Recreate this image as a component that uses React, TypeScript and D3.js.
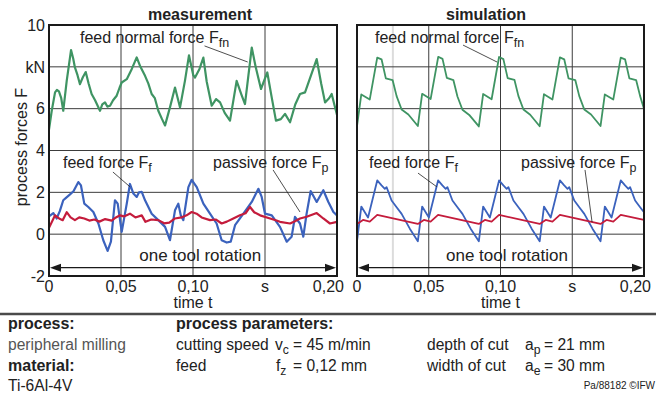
import { useEffect, useRef } from "react";
import * as d3 from "d3";

type Pt = [number, number];

const yTicks = [-2, 0, 2, 4, 6, 8, 10];
const yTickLabels = ["-2", "0", "2", "4", "6", "kN", "10"];
const xTicks = [0, 0.05, 0.1, 0.15, 0.2];
const xTickLabels = ["0", "0,05", "0,10", "s", "0,20"];

// measurement (time s, force kN)
const measFfn: Pt[] = [
  [0, 5.0], [0.0019, 5.9], [0.0042, 6.78], [0.0055, 6.9], [0.0069, 6.83], [0.0085, 6.5], [0.0099, 5.9],
  [0.0123, 7.33], [0.0153, 8.8], [0.0168, 8.4], [0.018, 7.97], [0.0198, 7.6], [0.0215, 7.17], [0.0235, 7.5],
  [0.0255, 7.75], [0.0275, 7.2], [0.0296, 6.7], [0.032, 6.4], [0.0354, 5.9], [0.037, 6.2], [0.0389, 6.3],
  [0.0405, 6.1], [0.0424, 6.14], [0.0445, 6.4], [0.047, 6.62], [0.049, 7.0], [0.0505, 7.25], [0.054, 7.41],
  [0.0575, 7.9], [0.0609, 8.45], [0.0635, 8.0], [0.0667, 7.57], [0.069, 7.2], [0.0713, 6.7], [0.0735, 6.5],
  [0.0759, 5.9], [0.0785, 5.5], [0.0806, 5.2], [0.084, 6.06], [0.0875, 7.01], [0.091, 6.06], [0.0944, 7.33],
  [0.0972, 8.55], [0.1002, 7.6], [0.1014, 7.49], [0.1045, 7.9], [0.1072, 8.44], [0.1095, 7.3], [0.113, 6.14],
  [0.116, 6.46], [0.1188, 6.3], [0.122, 5.8], [0.1257, 5.43], [0.1303, 7.33], [0.1335, 6.7], [0.1361, 6.22],
  [0.1385, 7.6], [0.1408, 8.92], [0.1435, 8.0], [0.1472, 6.94], [0.1516, 7.73], [0.1545, 6.6], [0.1576, 5.43],
  [0.161, 5.5], [0.1639, 5.75], [0.1674, 5.35], [0.171, 6.2], [0.1743, 6.7], [0.1778, 6.78], [0.182, 7.6],
  [0.1859, 8.37], [0.189, 7.2], [0.1917, 6.3], [0.1945, 6.5], [0.1963, 6.7], [0.1985, 6.1], [0.2, 5.7],
];

const measFf: Pt[] = [
  [0, 0.85], [0.003, 1.01], [0.0053, 0.75], [0.0075, 1.1], [0.0099, 1.62], [0.012, 1.75], [0.0146, 1.9],
  [0.017, 2.05], [0.0204, 2.49], [0.0222, 2.33], [0.0245, 1.46], [0.0273, 1.3], [0.0308, 1.06], [0.0343, 0.51],
  [0.0377, -0.29], [0.0407, -0.8], [0.043, -0.36], [0.0458, 1.62], [0.0477, 1.46], [0.0505, 0.11], [0.054, 1.46],
  [0.0562, 2.4], [0.0586, 1.94], [0.0609, 1.78], [0.0625, 2.0], [0.0644, 2.02], [0.0667, 1.62], [0.0713, 0.98],
  [0.0759, 0.67], [0.0806, 0.35], [0.084, -0.29], [0.0875, 1.14], [0.0898, 1.46], [0.0915, 0.9], [0.0933, 0.67],
  [0.0968, 2.25], [0.0991, 2.6], [0.1026, 2.25], [0.1072, 1.46], [0.1118, 0.98], [0.1164, 0.51], [0.1199, -0.29],
  [0.1234, -0.4], [0.1262, -0.36], [0.1292, 0.43], [0.135, 0.98], [0.1408, 1.54], [0.1454, 2.17], [0.1477, 1.78],
  [0.15, 0.98], [0.1547, 0.9], [0.1604, 0.35], [0.1651, -0.36], [0.1685, -0.12], [0.1708, 0.83], [0.1743, 0.51],
  [0.1766, -0.12], [0.1789, 0.98], [0.1817, 2.06], [0.1859, 1.54], [0.1905, 2.1], [0.194, 1.54], [0.1975, 1.06],
  [0.2, 0.9],
];

const measFp: Pt[] = [
  [0, 0.3], [0.0042, 0.9], [0.007, 0.75], [0.0095, 0.67], [0.0123, 1.05], [0.015, 0.8], [0.018, 0.67],
  [0.021, 0.8], [0.0245, 0.75], [0.028, 0.65], [0.0315, 0.7], [0.035, 0.6], [0.039, 0.72], [0.0435, 0.65],
  [0.0465, 0.8], [0.0493, 0.9], [0.052, 0.85], [0.0562, 0.98], [0.06, 0.8], [0.0644, 0.9], [0.067, 0.59],
  [0.071, 0.7], [0.0759, 0.67], [0.08, 0.52], [0.0835, 0.55], [0.0875, 0.75], [0.092, 0.8], [0.0955, 0.9],
  [0.0991, 1.06], [0.1025, 0.98], [0.106, 0.8], [0.1118, 0.67], [0.116, 0.7], [0.1199, 0.51], [0.1235, 0.6],
  [0.128, 0.75], [0.1326, 0.9], [0.1365, 1.0], [0.1396, 1.3], [0.1425, 1.05], [0.1466, 0.9], [0.1535, 0.75],
  [0.158, 0.65], [0.1604, 0.59], [0.1674, 0.51], [0.1708, 0.62], [0.1743, 0.75], [0.1789, 0.83], [0.1859, 1.01],
  [0.1905, 0.75], [0.1951, 0.51], [0.2, 0.59],
];

// simulation
const simFfn: Pt[] = [
  [0, 5.17], [0.003, 6.68], [0.0089, 6.44], [0.0141, 8.44], [0.0171, 8.36], [0.0201, 7.45], [0.0248, 7.37],
  [0.0276, 6.6], [0.0311, 5.96], [0.0358, 5.72],
  [0.0424, 5.17], [0.0454, 6.71], [0.0513, 6.46], [0.0566, 8.48], [0.0596, 8.38], [0.0626, 7.47], [0.0672, 7.36],
  [0.07, 6.58], [0.0735, 5.95], [0.0782, 5.7],
  [0.0849, 5.15], [0.0879, 6.7], [0.0938, 6.45], [0.099, 8.47], [0.102, 8.37], [0.105, 7.46], [0.1097, 7.38],
  [0.1125, 6.6], [0.116, 5.96], [0.1207, 5.71],
  [0.1273, 5.16], [0.1303, 6.69], [0.1362, 6.44], [0.1414, 8.45], [0.1444, 8.36], [0.1474, 7.45], [0.1521, 7.37],
  [0.1549, 6.6], [0.1584, 5.96], [0.1631, 5.72],
  [0.1697, 5.17], [0.1727, 6.68], [0.1786, 6.44], [0.1838, 8.44], [0.1868, 8.36], [0.1898, 7.45], [0.1945, 7.37],
  [0.1973, 6.6], [0.2, 6.0],
];

const simFf: Pt[] = [
  [0, -0.34], [0.003, 1.32], [0.0077, 0.8], [0.0141, 2.57], [0.0171, 2.33], [0.0194, 2.17], [0.0206, 2.25],
  [0.0241, 1.61], [0.0276, 1.29], [0.0311, 0.97], [0.0369, 0.25],
  [0.0424, -0.34], [0.0454, 1.32], [0.0501, 0.8], [0.0565, 2.57], [0.0595, 2.33], [0.0618, 2.17], [0.063, 2.25],
  [0.0665, 1.61], [0.07, 1.29], [0.0735, 0.97], [0.0793, 0.25],
  [0.0849, -0.34], [0.0879, 1.32], [0.0926, 0.8], [0.099, 2.57], [0.102, 2.33], [0.1043, 2.17], [0.1055, 2.25],
  [0.109, 1.61], [0.1125, 1.29], [0.116, 0.97], [0.1218, 0.25],
  [0.1273, -0.34], [0.1303, 1.32], [0.135, 0.8], [0.1414, 2.57], [0.1444, 2.33], [0.1467, 2.17], [0.1479, 2.25],
  [0.1514, 1.61], [0.1549, 1.29], [0.1584, 0.97], [0.1642, 0.25],
  [0.1697, -0.34], [0.1727, 1.32], [0.1774, 0.8], [0.1838, 2.57], [0.1868, 2.33], [0.1891, 2.17], [0.1903, 2.25],
  [0.1938, 1.61], [0.1973, 1.29], [0.2, 1.05],
];

const simFp: Pt[] = [
  [0, 0.49], [0.0042, 0.68], [0.0089, 0.6], [0.0141, 0.92],
  [0.0424, 0.49], [0.0466, 0.68], [0.0513, 0.6], [0.0565, 0.92],
  [0.0849, 0.49], [0.0891, 0.68], [0.0938, 0.6], [0.099, 0.92],
  [0.1273, 0.49], [0.1315, 0.68], [0.1362, 0.6], [0.1414, 0.92],
  [0.1697, 0.49], [0.1739, 0.68], [0.1786, 0.6], [0.1838, 0.92],
  [0.2, 0.68],
];

const GREEN = "#3f9463";
const BLUE = "#3b62bd";
const RED = "#c41c3c";
const FONT = "'Liberation Sans', Arial, Helvetica, sans-serif";

const panels = [
  {
    left: 49, right: 337, title: "measurement", titleX: 200, width: 2.2, marker: null as number | null,
    series: [measFfn, measFf, measFp],
    ffn: { t: 0.0215, lead: [[0.108, 9.0], [0.138, 8.23]] },
    ff: { t: 0.0097, lead: [[0.0444, 2.97], [0.0563, 2.26]] },
    fp: { t: 0.1139, lead: [[0.1556, 3.07], [0.1743, 1.06]] },
    rotX: 0.105,
  },
  {
    left: 357, right: 644, title: "simulation", titleX: 486, width: 1.8, marker: 0.025 as number | null,
    series: [simFfn, simFf, simFp],
    ffn: { t: 0.0125, lead: [[0.0739, 9.04], [0.0976, 8.23]] },
    ff: { t: 0.0084, lead: [[0.0425, 2.92], [0.0557, 2.26]] },
    fp: { t: 0.1143, lead: [[0.1589, 3.07], [0.1638, 0.58]] },
    rotX: 0.1045,
  },
];

const App = () => {
  const ref = useRef<SVGSVGElement>(null);

  useEffect(() => {
    const svg = d3.select(ref.current);
    svg.selectAll("*").remove();

    const y = d3.scaleLinear().domain([-2, 10]).range([276, 25]);
    const colors = [GREEN, BLUE, RED];

    const label = (g: any, x: number, yy: number, main: string, sub: string, size = 16) => {
      const t = g.append("text").attr("x", x).attr("y", yy).attr("font-size", size).attr("fill", "#222");
      t.append("tspan").text(main);
      t.append("tspan").attr("font-size", size * 0.78).attr("dy", 3.5).text(sub);
      return t;
    };

    panels.forEach((p) => {
      const x = d3.scaleLinear().domain([0, 0.2]).range([p.left, p.right]);
      const g = svg.append("g");

      if (p.marker != null) {
        g.append("line")
          .attr("x1", x(p.marker)).attr("x2", x(p.marker))
          .attr("y1", y(10)).attr("y2", y(-2))
          .attr("stroke", "#dcdcdc").attr("stroke-width", 2);
      }

      // grid
      g.selectAll(".hg").data(yTicks.slice(1, -1)).join("line")
        .attr("x1", p.left).attr("x2", p.right)
        .attr("y1", (d) => y(d)).attr("y2", (d) => y(d))
        .attr("stroke", "#3c3c3c").attr("stroke-width", 1);
      g.selectAll(".vg").data(xTicks.slice(1, -1)).join("line")
        .attr("x1", (d) => x(d)).attr("x2", (d) => x(d))
        .attr("y1", y(10)).attr("y2", y(-2))
        .attr("stroke", "#3c3c3c").attr("stroke-width", 1);

      // curves
      const line = d3.line<Pt>().x((d) => x(d[0])).y((d) => y(d[1]));
      p.series.forEach((s, i) => {
        g.append("path").datum(s)
          .attr("d", line)
          .attr("fill", "none")
          .attr("stroke", colors[i])
          .attr("stroke-width", p.width)
          .attr("stroke-linejoin", "round");
      });

      // frame
      g.append("rect")
        .attr("x", p.left).attr("y", y(10))
        .attr("width", p.right - p.left).attr("height", y(-2) - y(10))
        .attr("fill", "none").attr("stroke", "#1a1a1a").attr("stroke-width", 2);

      // title
      g.append("text").attr("x", p.titleX).attr("y", 20)
        .attr("text-anchor", "middle").attr("font-size", 16).attr("font-weight", "bold")
        .attr("fill", "#222").text(p.title);

      // x tick labels (last one pulled inside)
      g.selectAll(".xt").data(xTicks).join("text")
        .attr("x", (d, i) => (i === xTicks.length - 1 ? p.right + 7 : x(d)))
        .attr("y", 292)
        .attr("text-anchor", (d, i) => (i === xTicks.length - 1 ? "end" : "middle"))
        .attr("font-size", 16).attr("fill", "#222")
        .text((d, i) => xTickLabels[i]);
      g.append("text").attr("x", x(0.1)).attr("y", 308)
        .attr("text-anchor", "middle").attr("font-size", 16).attr("fill", "#222").text("time t");

      // one tool rotation
      const ya = y(-1.6);
      g.append("line").attr("x1", p.left + 4).attr("x2", p.right - 4)
        .attr("y1", ya).attr("y2", ya).attr("stroke", "#1a1a1a").attr("stroke-width", 1.2);
      g.append("path")
        .attr("d", `M${p.left + 1},${ya}L${p.left + 12},${ya - 4}L${p.left + 12},${ya + 4}Z`)
        .attr("fill", "#1a1a1a");
      g.append("path")
        .attr("d", `M${p.right - 1},${ya}L${p.right - 12},${ya - 4}L${p.right - 12},${ya + 4}Z`)
        .attr("fill", "#1a1a1a");
      g.append("text").attr("x", x(p.rotX)).attr("y", y(-1.28))
        .attr("text-anchor", "middle").attr("font-size", 17).attr("fill", "#222").text("one tool rotation");

      // annotations
      const lead = (pts: number[][]) =>
        g.append("line")
          .attr("x1", x(pts[0][0])).attr("y1", y(pts[0][1]))
          .attr("x2", x(pts[1][0])).attr("y2", y(pts[1][1]))
          .attr("stroke", "#222").attr("stroke-width", 0.8);
      label(g, x(p.ffn.t), 43, "feed normal force F", "fn");
      lead(p.ffn.lead);
      label(g, x(p.ff.t), 168, "feed force F", "f");
      lead(p.ff.lead);
      label(g, x(p.fp.t), 168, "passive force F", "p");
      lead(p.fp.lead);
    });

    // y axis labels (left panel only)
    svg.append("g").selectAll("text").data(yTicks).join("text")
      .attr("x", 45).attr("y", (d) => y(d)).attr("dy", "0.36em")
      .attr("text-anchor", "end").attr("font-size", 16).attr("fill", "#222")
      .text((d, i) => yTickLabels[i]);
    svg.append("text")
      .attr("transform", "translate(27,147) rotate(-90)")
      .attr("text-anchor", "middle").attr("font-size", 16).attr("fill", "#222")
      .text("process forces F");

    // footer
    svg.append("line").attr("x1", 0).attr("x2", 656).attr("y1", 314).attr("y2", 314)
      .attr("stroke", "#4a4a4a").attr("stroke-width", 2.5);

    const ft = (xx: number, yy: number, s: string, bold = false, color = "#222") =>
      svg.append("text").attr("x", xx).attr("y", yy).attr("font-size", bold ? 16 : 15.6)
        .attr("font-weight", bold ? "bold" : "normal").attr("fill", color).text(s);

    ft(8, 329, "process:", true);
    ft(176, 329, "process parameters:", true);
    ft(8, 350, "peripheral milling", false, "#555");
    ft(176, 350, "cutting speed");
    label(svg, 275, 350, "v", "c", 15.6);
    ft(293, 350, "= 45 m/min");
    ft(427, 350, "depth of cut");
    label(svg, 525, 350, "a", "p", 15.6);
    ft(544, 350, "= 21 mm");
    ft(8, 371, "material:", true);
    ft(176, 371, "feed");
    label(svg, 276, 371, "f", "z", 15.6);
    ft(293, 371, "= 0,12 mm");
    ft(427, 371, "width of cut");
    label(svg, 525, 371, "a", "e", 15.6);
    ft(544, 371, "= 30 mm");
    ft(8, 391, "Ti-6Al-4V");
    svg.append("text").attr("x", 655).attr("y", 389).attr("text-anchor", "end")
      .attr("font-size", 10).attr("fill", "#222").text("Pa/88182 ©IFW");
  }, []);

  return (
    <svg
      ref={ref}
      width={666}
      height={398}
      style={{ position: "absolute", left: 0, top: 0, background: "#fff", fontFamily: FONT }}
    />
  );
};

export default App;
